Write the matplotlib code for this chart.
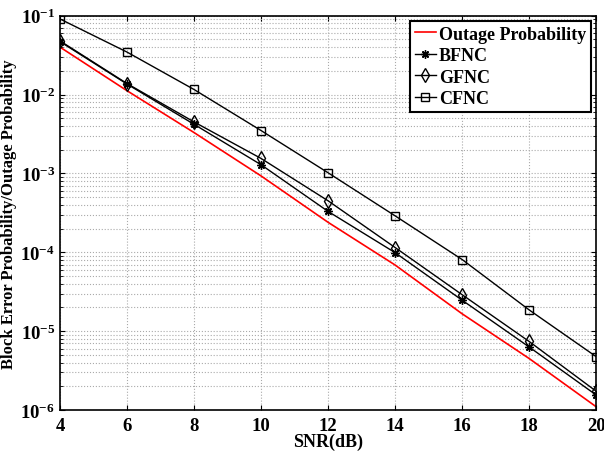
import matplotlib.pyplot as plt
from matplotlib.ticker import LogLocator, NullFormatter

snr = [4, 6, 8, 10, 12, 14, 16, 18, 20]
outage = [0.040, 0.0112, 3.3e-3, 9.3e-4, 2.4e-4, 6.9e-5, 1.66e-5, 4.5e-6, 1.1e-6]
bfnc = [0.047, 0.0136, 0.0042, 1.29e-3, 3.3e-4, 9.9e-5, 2.47e-5, 6.3e-6, 1.55e-6]
gfnc = [0.048, 0.0138, 0.0045, 1.55e-3, 4.5e-4, 1.15e-4, 2.9e-5, 7.4e-6, 1.73e-6]
cfnc = [0.091, 0.0346, 0.0116, 3.5e-3, 1.02e-3, 2.9e-4, 8.1e-5, 1.86e-5, 4.75e-6]

plt.rcParams['font.family'] = 'Liberation Serif'
plt.rcParams['font.weight'] = 'bold'
plt.rcParams['mathtext.fontset'] = 'custom'
plt.rcParams['mathtext.rm'] = 'Liberation Serif:bold'
plt.rcParams['mathtext.it'] = 'Liberation Serif:bold'
plt.rcParams['mathtext.bf'] = 'Liberation Serif:bold'
plt.rcParams['mathtext.default'] = 'rm'

fig = plt.figure(figsize=(6.04, 4.52), dpi=100)
ax = fig.add_axes([0.0993, 0.0907, 0.8877, 0.8723])

ax.semilogy(snr, outage, color='red', lw=1.2, label='Outage Probability')
ax.semilogy(snr, bfnc, color='black', lw=1.0, marker=(8, 2, 0), ms=6, label='BFNC')
ax.semilogy(snr, gfnc, color='black', lw=1.0, marker='d', ms=7, mfc='none', label='GFNC')
ax.semilogy(snr, cfnc, color='black', lw=1.0, marker='s', ms=6, mfc='none', label='CFNC')

ax.set_xlim(4, 20)
ax.set_ylim(1e-6, 1e-1)
ax.set_xticks(snr)
ax.yaxis.set_minor_locator(LogLocator(base=10, subs=range(2, 10)))
ax.yaxis.set_minor_formatter(NullFormatter())
ax.tick_params(which='both', direction='in', top=True, right=True, labelsize=13.5)
ax.tick_params(axis='x', pad=5)
ax.grid(True, which='major', ls=':', color='#aaaaaa', lw=0.8)
ax.grid(True, which='minor', axis='y', ls=':', color='#aaaaaa', lw=0.8)
for s in ax.spines.values():
    s.set_linewidth(1.2)

ax.set_xlabel('SNR(dB)', fontsize=13, fontweight='bold', labelpad=-1)
ax.set_ylabel('Block Error Probability/Outage Probability', fontsize=12, fontweight='bold')
ax.yaxis.set_label_coords(-0.08, 0.5)

leg = ax.legend(loc='upper right', fontsize=13, fancybox=False, edgecolor='black',
                framealpha=1, borderpad=0.25, labelspacing=0.25, handlelength=1.2,
                handletextpad=0.15, borderaxespad=0.3)
leg.get_frame().set_linewidth(1.5)

plt.savefig('out.png', dpi=100)
